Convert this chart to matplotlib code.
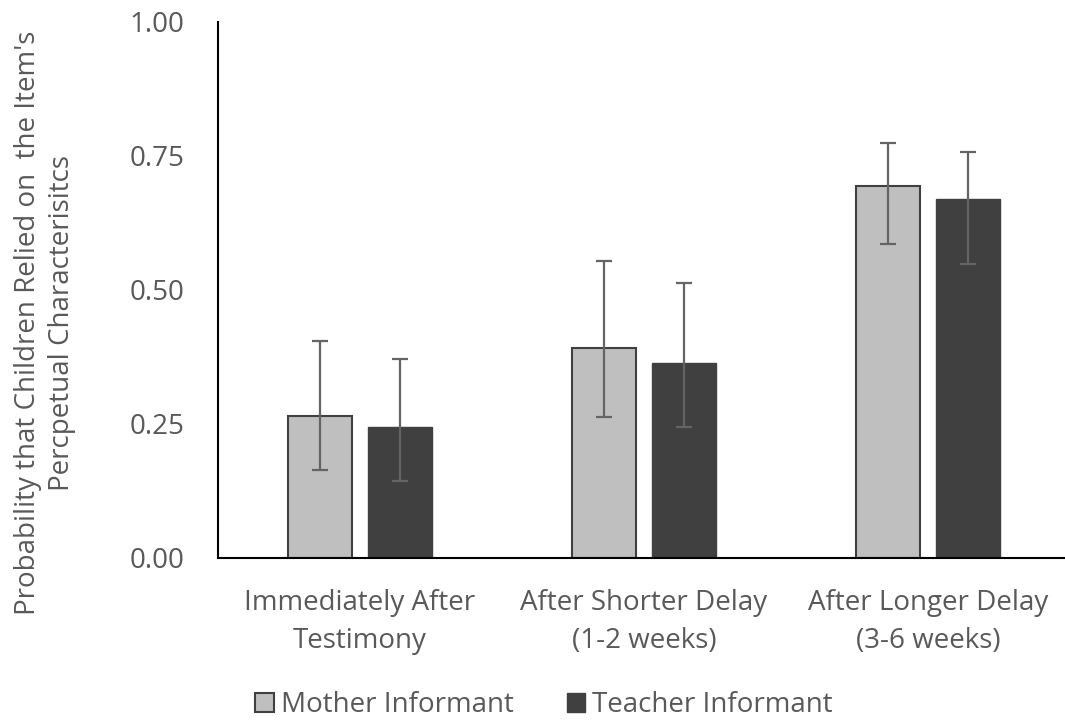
import matplotlib
matplotlib.use("Agg")
import matplotlib.pyplot as plt
import numpy as np
from matplotlib.patches import Patch

categories = ["Immediately After\nTestimony", "After Shorter Delay\n(1-2 weeks)", "After Longer Delay\n(3-6 weeks)"]
series_names = ["Mother Informant", "Teacher Informant"]
mother = [0.265, 0.392, 0.694]
mother_lo = [0.164, 0.263, 0.585]
mother_hi = [0.404, 0.554, 0.775]
teacher = [0.245, 0.364, 0.670]
teacher_lo = [0.144, 0.244, 0.549]
teacher_hi = [0.372, 0.513, 0.757]
yticks = [0.00, 0.25, 0.50, 0.75, 1.00]

plt.rcParams['font.family'] = ['Open Sans', 'DejaVu Sans']
W, H = 1065, 721
fig = plt.figure(figsize=(W/100, H/100), dpi=100)
ax = fig.add_axes([218/W, 1-558/H, (W-218)/W, (558-22)/H])

x = np.arange(len(categories))
bw = 0.225
off = 0.141
ecol = '#646464'
m = np.array(mother); t = np.array(teacher)
ax.bar(x-off, m, bw, color='#BFBFBF', edgecolor='#404040', linewidth=1.5, zorder=2)
ax.bar(x+off, t, bw, color='#404040', edgecolor='#404040', linewidth=1.0, zorder=2)
ax.errorbar(x-off, m, yerr=[m-np.array(mother_lo), np.array(mother_hi)-m], fmt='none',
            ecolor=ecol, elinewidth=1.6, capsize=6, capthick=1.6, zorder=3)
ax.errorbar(x+off, t, yerr=[t-np.array(teacher_lo), np.array(teacher_hi)-t], fmt='none',
            ecolor=ecol, elinewidth=1.6, capsize=6, capthick=1.6, zorder=3)

ax.set_xlim(-0.5, -0.5 + (W-218)/284)
ax.set_ylim(0, 1)
ax.set_yticks(yticks)
ax.set_yticklabels([f"{v:.2f}" for v in yticks], fontsize=20, color='#595959')
ax.set_xticks(x)
ax.set_xticklabels(categories, fontsize=20, color='#595959', linespacing=1.48)
ax.tick_params(axis='both', length=0)
ax.tick_params(axis='y', pad=24)
ax.tick_params(axis='x', pad=22)
for s in ['top', 'right']:
    ax.spines[s].set_visible(False)
for s in ['left', 'bottom']:
    ax.spines[s].set_color('#000000')
    ax.spines[s].set_linewidth(1.5)

fig.text(45/W, 1-323/H, "Probability that Children Relied on  the Item's\nPercpetual Characterisitcs",
         rotation=90, ha='center', va='center', fontsize=20, color='#595959', linespacing=1.32)

handles = [Patch(facecolor='#BFBFBF', edgecolor='#404040', linewidth=1.5),
           Patch(facecolor='#404040', edgecolor='#404040')]
fig.legend(handles, series_names, loc='center', bbox_to_anchor=(544/W, 1-705/H), ncol=2,
           frameon=False, fontsize=20, labelcolor='#595959', handlelength=0.68, handleheight=0.68,
           handletextpad=0.25, columnspacing=1.9, borderpad=0, borderaxespad=0)

fig.savefig("out.png", dpi=100)
